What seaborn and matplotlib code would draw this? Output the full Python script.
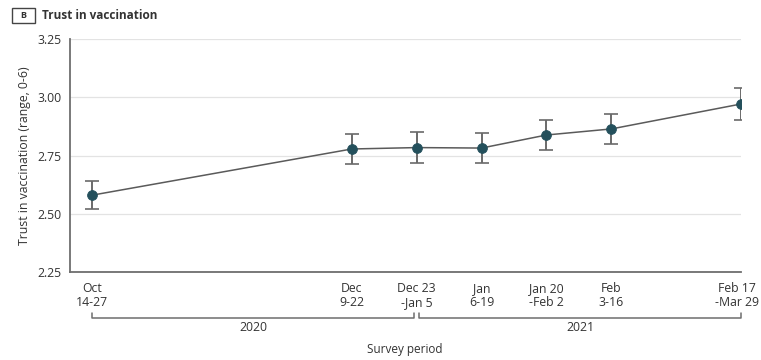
import numpy as np
import pandas as pd
import seaborn as sns
import matplotlib.pyplot as plt
import matplotlib.transforms as mtransforms
from matplotlib.patches import Rectangle


# -----------------------------
# DATA
# -----------------------------
# survey periods, positioned by start week (weeks after Oct 14, 2020)
period_labels = ["Oct\n14-27", "Dec\n9-22", "Dec 23\n-Jan 5", "Jan\n6-19",
                 "Jan 20\n-Feb 2", "Feb\n3-16", "Feb 17\n-Mar 29"]
period_week = [0, 8, 10, 12, 14, 16, 20]
trust_mean = [2.58, 2.778, 2.784, 2.782, 2.838, 2.864, 2.971]
ci_low = [2.52, 2.713, 2.719, 2.716, 2.774, 2.800, 2.904]
ci_high = [2.64, 2.843, 2.850, 2.848, 2.903, 2.928, 3.038]
year_labels = ["2020", "2021"]
year_groups = [(0, 2), (2, 6)]  # index of first / last period in each bracket

df = pd.DataFrame({"week": period_week, "trust": trust_mean,
                   "lo": ci_low, "hi": ci_high})

# -----------------------------
# STYLE
# -----------------------------
sns.set_theme(style="white")
plt.rcParams["font.family"] = ["Open Sans", "DejaVu Sans"]
text_col = "#333333"
axis_col = "#6e6e6e"
point_col = "#24505c"

fig = plt.figure(figsize=(7.61, 3.6), dpi=100)
ax = fig.add_axes([0.092, 0.244, 0.882, 0.648])

# horizontal grid
ax.yaxis.grid(True, color="#e3e3e3", linewidth=0.9)
ax.set_axisbelow(True)

# error bars
ax.errorbar(df["week"], df["trust"],
            yerr=[df["trust"] - df["lo"], df["hi"] - df["trust"]],
            fmt="none", ecolor="#6a6a6a", elinewidth=1.4, capsize=5,
            capthick=1.2, zorder=2)

# line + points
sns.lineplot(data=df, x="week", y="trust", color="#5a5a5a", linewidth=1.1,
             ax=ax, zorder=3)
sns.scatterplot(data=df, x="week", y="trust", color=point_col, s=50,
                edgecolor=point_col, ax=ax, zorder=4)

ax.set_xlim(-0.68, 20)
ax.set_ylim(2.25, 3.25)
ax.set_yticks([2.25, 2.50, 2.75, 3.00, 3.25])
ax.set_yticklabels(["2.25", "2.50", "2.75", "3.00", "3.25"])
ax.set_xticks(period_week)
ax.set_xticklabels(period_labels, linespacing=1.15)

for s in ["top", "right"]:
    ax.spines[s].set_visible(False)
for s in ["left", "bottom"]:
    ax.spines[s].set_color(axis_col)
    ax.spines[s].set_linewidth(1.3)
ax.tick_params(axis="both", length=4, width=1.1, color=axis_col,
               labelsize=8.8, labelcolor=text_col, pad=2)
ax.tick_params(axis="x", pad=3)

# nudge the last tick label so it stays inside the figure
last = ax.get_xticklabels()[-1]
last.set_transform(last.get_transform() +
                   mtransforms.ScaledTranslation(-3 / 72, 0, fig.dpi_scale_trans))

ax.set_xlabel("")
ax.set_ylabel("Trust in vaccination (range, 0-6)", fontsize=8.8,
              color=text_col, labelpad=5)

# year brackets under the axis
trans = ax.get_xaxis_transform()
gap = 0.07
for (i0, i1), lab in zip(year_groups, year_labels):
    x0 = period_week[i0] + (gap if i0 > 0 else 0)
    x1 = period_week[i1] - (gap if i1 < len(period_week) - 1 else 0)
    yb, yt = -0.197, -0.176
    ax.plot([x0, x0, x1, x1], [yt, yb, yb, yt], color=axis_col,
            linewidth=1.1, transform=trans, clip_on=False)
    ax.text((x0 + x1) / 2, -0.236, lab, transform=trans, ha="center",
            va="center", fontsize=8.8, color=text_col)

fig.text(0.532, 0.028, "Survey period", ha="center", va="center",
         fontsize=8.5, color=text_col)

# panel header
fig.patches.append(Rectangle((0.016, 0.937), 0.03, 0.042,
                             transform=fig.transFigure, fill=False,
                             edgecolor="#444444", linewidth=1.0))
fig.text(0.031, 0.958, "B", ha="center", va="center", fontsize=6.5,
         fontweight="bold", color=text_col)
fig.text(0.055, 0.958, "Trust in vaccination", ha="left", va="center",
         fontsize=8.5, fontweight="bold", color=text_col)

fig.savefig("out.png", dpi=100)
